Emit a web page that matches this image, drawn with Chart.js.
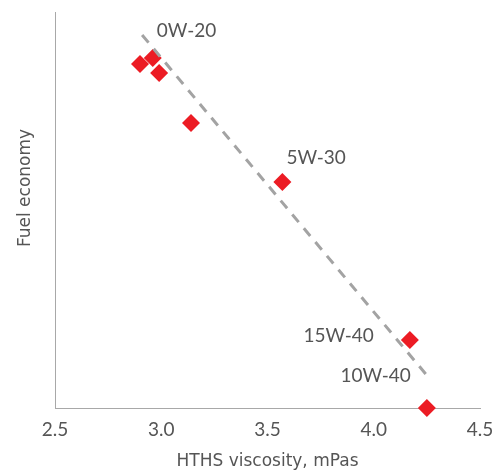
<!DOCTYPE html>
<html>
<head>
<meta charset="utf-8">
<script src="https://cdn.jsdelivr.net/npm/chart.js@4"></script>
<style>
  html, body { margin: 0; padding: 0; background: #fff; }
  #wrap { width: 504px; height: 473px; }
</style>
</head>
<body>
<div id="wrap"><canvas id="hthsChart"></canvas></div>
<script>
// HTHS viscosity vs fuel economy (y is relative, no units shown)
const viscosity = [2.90, 2.96, 2.99, 3.14, 3.57, 4.17, 4.25];
const fuelEconomy = [86.9, 88.4, 84.6, 72.0, 57.1, 17.2, 0];
const gradeLabels = ['', '0W-20', '', '', '5W-30', '15W-40', '10W-40'];

// dashed trend line end points
const trendX = [2.91, 4.26];
const trendY = [94.2, 7.6];

const xTicks = [2.5, 3.0, 3.5, 4.0, 4.5];

const FONT = 'Lato, "Open Sans", sans-serif';
const TITLE_FONT = '"DejaVu Sans", sans-serif';
const TEXT_GREY = '#555555';

// label placement relative to the point it belongs to
const labelPlacement = {
    '0W-20': { dx: 4, dy: -27, align: 'left' },
    '5W-30': { dx: 4, dy: -24, align: 'left' },
    '15W-40': { dx: -36, dy: -4, align: 'right' },
    '10W-40': { dx: -16, dy: -32, align: 'right' }
};

const gradeLabelPlugin = {
    id: 'gradeLabels',
    afterDatasetsDraw(chart) {
        const ctx = chart.ctx;
        const xs = chart.scales.x;
        const ys = chart.scales.y;
        ctx.save();
        ctx.font = '19px ' + FONT;
        ctx.fillStyle = TEXT_GREY;
        ctx.textBaseline = 'middle';
        gradeLabels.forEach((txt, i) => {
            if (!txt) return;
            const p = labelPlacement[txt];
            ctx.textAlign = p.align;
            ctx.fillText(txt, xs.getPixelForValue(viscosity[i]) + p.dx, ys.getPixelForValue(fuelEconomy[i]) + p.dy);
        });
        ctx.restore();
    }
};

// y title sits above the middle of the axis in the original, so draw it by hand
const yTitlePlugin = {
    id: 'yTitle',
    afterDraw(chart) {
        const ctx = chart.ctx;
        const area = chart.chartArea;
        ctx.save();
        ctx.translate(26, (area.top + area.bottom) / 2 - 22);
        ctx.rotate(-Math.PI / 2);
        ctx.font = '17px ' + TITLE_FONT;
        ctx.fillStyle = TEXT_GREY;
        ctx.textAlign = 'center';
        ctx.textBaseline = 'middle';
        ctx.fillText('Fuel economy', 0, 0);
        ctx.restore();
    }
};

const ctx = document.getElementById('hthsChart').getContext('2d');

new Chart(ctx, {
    type: 'scatter',
    data: {
        datasets: [
            {
                label: 'Trend',
                type: 'line',
                data: trendX.map((x, i) => ({ x: x, y: trendY[i] })),
                borderColor: '#a3a3a3',
                borderWidth: 3,
                borderDash: [10, 8],
                pointRadius: 0,
                fill: false,
                order: 0
            },
            {
                label: 'Oils',
                data: viscosity.map((x, i) => ({ x: x, y: fuelEconomy[i] })),
                pointStyle: 'rectRot',
                pointRadius: 9,
                pointHoverRadius: 9,
                backgroundColor: '#ec1c24',
                borderWidth: 0,
                clip: false,
                order: 1
            }
        ]
    },
    options: {
        responsive: true,
        maintainAspectRatio: false,
        animation: false,
        layout: {
            padding: { top: 12, right: 24, left: 0, bottom: 0 }
        },
        plugins: {
            legend: { display: false },
            tooltip: { enabled: false }
        },
        scales: {
            x: {
                type: 'linear',
                min: 2.5,
                max: 4.5,
                afterBuildTicks: (scale) => {
                    scale.ticks = xTicks.map(v => ({ value: v }));
                },
                afterFit: (scale) => { scale.height = 65; },
                grid: { display: false, drawTicks: false },
                border: { display: true, color: '#a8a8a8', width: 1 },
                ticks: {
                    color: TEXT_GREY,
                    font: { family: FONT, size: 19 },
                    padding: 10,
                    maxRotation: 0,
                    callback: (v) => Number(v).toFixed(1)
                },
                title: {
                    display: true,
                    text: 'HTHS viscosity, mPas',
                    color: TEXT_GREY,
                    font: { family: TITLE_FONT, size: 17 },
                    padding: { top: 0, bottom: 1 }
                }
            },
            y: {
                type: 'linear',
                min: 0,
                max: 100,
                afterFit: (scale) => { scale.width = 55; },
                grid: { display: false, drawTicks: false },
                border: { display: true, color: '#a8a8a8', width: 1 },
                ticks: { display: false },
                title: { display: false }
            }
        }
    },
    plugins: [gradeLabelPlugin, yTitlePlugin]
});
</script>
</body>
</html>
